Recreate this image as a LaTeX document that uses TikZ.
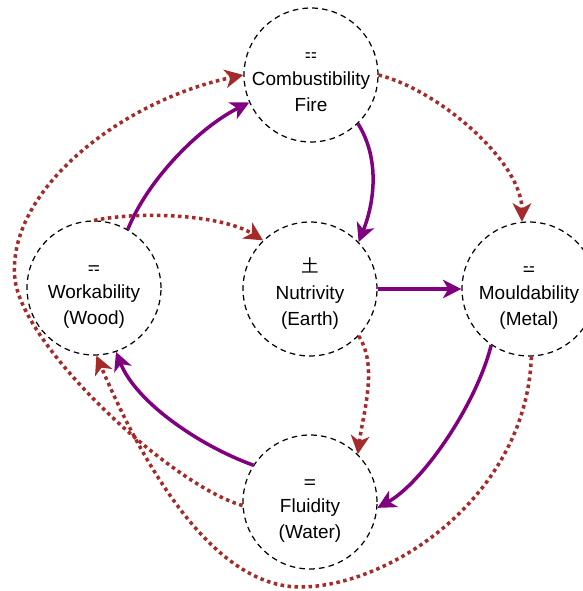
\documentclass[tikz,border=0pt]{standalone}
\usepackage{fontspec}
\setmainfont{Liberation Sans}
\newfontfamily\symfont{DejaVu Sans}
\newfontfamily\cjkfont{Noto Sans CJK SC}
\usetikzlibrary{arrows.meta}
\definecolor{genpurple}{HTML}{800080}
\definecolor{ctlbrown}{HTML}{A52A2A}
% three lines of a phase: sign, quality, element
\newcommand{\phaselines}[3]{\rule{0pt}{16pt}\strut#1\\\strut#2\\\strut#3}
\newcommand{\digram}[1]{{\symfont\fontsize{8}{8}\selectfont #1}}

\begin{document}
\begin{tikzpicture}[x=0.02cm, y=-0.02cm,
    phase/.style={circle, draw, line width=0.7pt, dash pattern=on 3.2pt off 2.4pt,
        minimum size=2.68cm, inner sep=-12pt, align=center,
        font=\fontsize{10.8}{15}\selectfont},
    genarrow/.style={genpurple, line width=2pt,
        -{Stealth[length=10.5pt, width=10.5pt, inset=3pt]}},
    ctlarrow/.style={ctlbrown, line width=2pt, dash pattern=on 2pt off 2pt,
        -{Stealth[length=10.5pt, width=10.5pt, inset=3pt]}}]
    \useasboundingbox (0,0) rectangle (582,591);
    % the five phases
    \node[phase] (fire) at (311,75) {\phaselines{\digram{⚏}}{Combustibility}{Fire}};
    \node[phase] (wood) at (94,288) {\phaselines{\digram{⚎}}{Workability}{(Wood)}};
    \node[phase] (earth) at (310,289) {\phaselines{{\cjkfont\fontsize{10}{10}\selectfont 土}}{Nutrivity}{(Earth)}};
    \node[phase] (metal) at (529,289) {\phaselines{\digram{⚍}}{Mouldability}{(Metal)}};
    \node[phase] (water) at (310,502) {\phaselines{\digram{⚌}}{Fluidity}{(Water)}};
    \coordinate (low) at (300,587);
    \coordinate (side) at (15,280);
    % generating cycle
    \draw[genarrow] (wood.60) .. controls +(20,-50) and +(-50,25) .. (fire.204);
    \draw[genarrow] (fire.314) .. controls +(22,35) and +(16,-40) .. (earth.44);
    \draw[genarrow] (earth) -- (metal);
    \draw[genarrow] (metal.236) .. controls +(-15,60) and +(45,-25) .. (water.355);
    \draw[genarrow] (water.147) .. controls +(-55,-20) and +(20,50) .. (wood.289);
    % controlling cycle
    \draw[ctlarrow] (wood.north) .. controls +(50,-10) and +(-40,-25) .. (earth.134);
    \draw[ctlarrow] (fire.east) .. controls +(60,15) and +(0,-60) .. (metal.96);
    \draw[ctlarrow] (earth.316) .. controls +(20,30) and +(5,-40) .. (water.45);
    \draw[ctlarrow] (metal.272) .. controls +(-5,140) and +(90,0) .. (low)
        .. controls +(-100,0) and +(30,70) .. (wood.272);
    \draw[ctlarrow] (water.183) .. controls +(-70,-20) and +(10,70) .. (side)
        .. controls +(-10,-90) and +(-120,25) .. (fire.west);
\end{tikzpicture}
\end{document}
